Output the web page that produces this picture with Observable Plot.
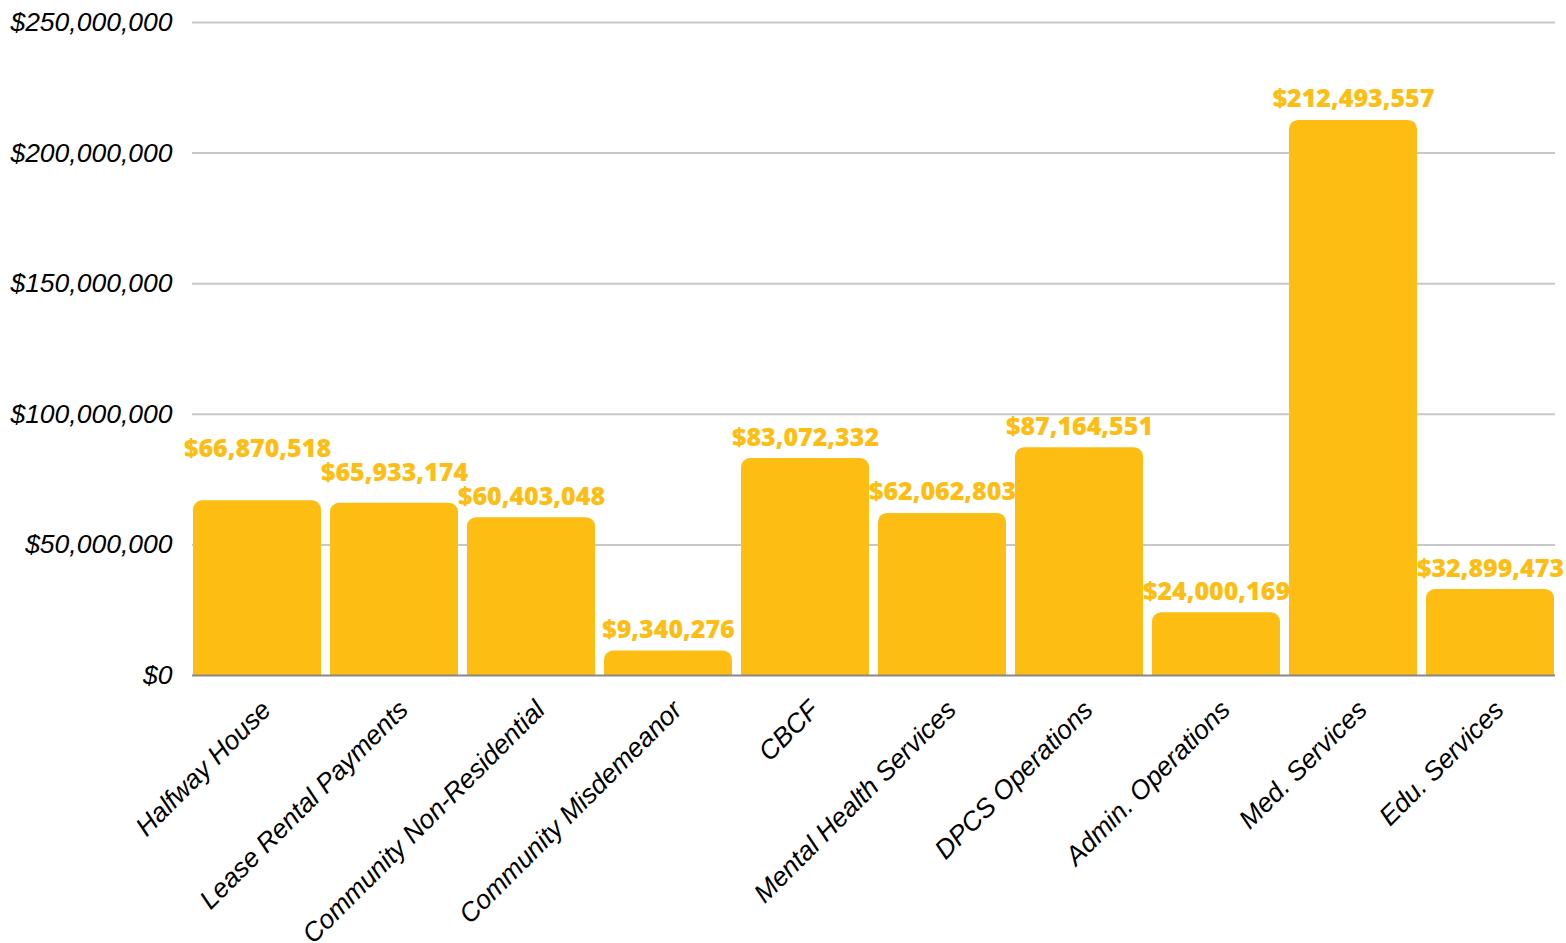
<!DOCTYPE html>
<html>
<head>
<meta charset="utf-8">
<script src="https://cdn.jsdelivr.net/npm/d3@7"></script>
<script src="https://cdn.jsdelivr.net/npm/@observablehq/plot@0.6"></script>
<style>
  html, body { margin: 0; padding: 0; background: #fff; }
  #chart svg { display: block; overflow: visible; }
</style>
</head>
<body>
<div id="chart"></div>
<script>
const categories = ["Halfway House", "Lease Rental Payments", "Community Non-Residential", "Community Misdemeanor", "CBCF", "Mental Health Services", "DPCS Operations", "Admin. Operations", "Med. Services", "Edu. Services"];
const values = [66870518, 65933174, 60403048, 9340276, 83072332, 62062803, 87164551, 24000169, 212493557, 32899473];
const yTicks = [0, 50000000, 100000000, 150000000, 200000000, 250000000];

const data = categories.map((c, i) => ({category: c, value: values[i]}));
const money = d3.format("$,");
const gold = "#FDBD12";

function build(labelData) {
  return Plot.plot({
    width: 1566,
    height: 943,
    marginLeft: 192,
    marginRight: 11,
    marginTop: 22,
    marginBottom: 268,
    style: {fontFamily: "'Liberation Sans', Arial, sans-serif", fontSize: "25px", color: "#000", overflow: "visible"},
    x: {domain: categories, paddingInner: 0.065, paddingOuter: 0.0, label: null},
    y: {domain: [0, 250000000], ticks: yTicks, label: null},
    marks: [
      Plot.ruleY(yTicks.filter(t => t > 0), {stroke: "#c8c8c8", strokeWidth: 2}),
      Plot.barY(data, {x: "category", y: "value", fill: gold, ry1: 9}),
      Plot.ruleY([0], {stroke: "#888", strokeWidth: 2}),
      Plot.text(labelData, {
        x: "category", y: "labelY", text: d => money(d.value),
        fill: gold, fontSize: 25, fontWeight: 800,
        fontFamily: "'Open Sans', sans-serif", letterSpacing: 0.6
      }),
      Plot.axisY({
        ticks: yTicks, tickFormat: money, tickSize: 0, tickPadding: 20,
        fontSize: 26.5, fontStyle: "italic", label: null
      }),
      Plot.axisX({
        tickSize: 0, tickRotate: -45, tickPadding: 10, dx: 9, dy: 20,
        fontSize: 26.5, fontStyle: "italic", label: null
      })
    ]
  });
}

// First pass: get the y scale, then stagger labels that would collide (right to left).
const probe = build(data.map(d => ({...d, labelY: d.value})));
const ys = probe.scale("y");
const gap = 21, lineH = 24;
const py = data.map(d => ys.apply(d.value) - gap);
for (let i = py.length - 2; i >= 0; --i) {
  if (Math.abs(py[i] - py[i + 1]) < lineH) py[i] = Math.min(py[i], py[i + 1] - lineH);
}
const labelData = data.map((d, i) => ({...d, labelY: ys.invert(py[i])}));

document.getElementById("chart").appendChild(build(labelData));
</script>
</body>
</html>
